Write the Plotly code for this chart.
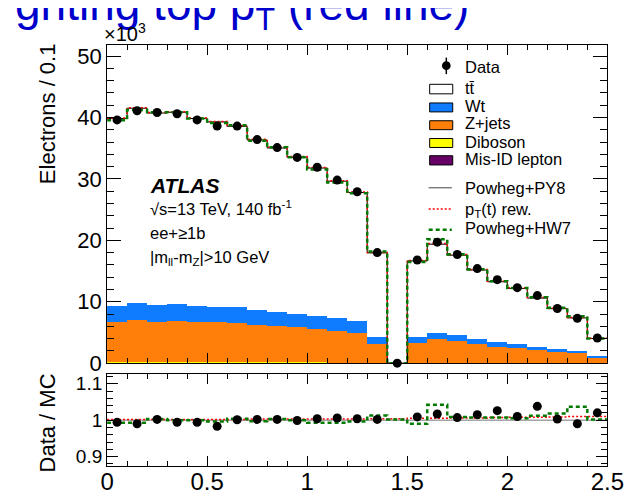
import plotly.graph_objects as go

# ---------------- data (values in units of 10^3 electrons / 0.1) ----------------
bin_lo = [0.0, 0.1, 0.2, 0.3, 0.4, 0.5, 0.6, 0.7, 0.8, 0.9, 1.0, 1.1, 1.2,
          1.3, 1.4, 1.5, 1.6, 1.7, 1.8, 1.9, 2.0, 2.1, 2.2, 2.3, 2.4]
bin_width = 0.1

data = [39.6, 41.1, 40.8, 40.6, 39.6, 38.6, 38.6, 36.4, 35.1, 33.5, 31.9, 29.8, 27.9,
        18.0, 0.0, 16.8, 19.7, 17.7, 15.4, 13.6, 12.3, 11.0, 8.9, 7.3, 4.1]

misid = [0.12, 0.12, 0.12, 0.12, 0.12, 0.12, 0.11, 0.11, 0.11, 0.10, 0.10, 0.10, 0.09,
         0.06, 0.0, 0.06, 0.07, 0.07, 0.06, 0.06, 0.05, 0.05, 0.04, 0.04, 0.03]
diboson = [0.08, 0.08, 0.08, 0.08, 0.08, 0.08, 0.08, 0.07, 0.07, 0.07, 0.07, 0.06, 0.06,
           0.04, 0.0, 0.04, 0.04, 0.04, 0.04, 0.03, 0.03, 0.03, 0.03, 0.02, 0.02]
zjets = [6.64, 6.86, 6.64, 6.70, 6.48, 6.48, 6.44, 6.08, 5.86, 5.71, 5.39, 5.19, 4.88,
         3.11, 0.0, 3.30, 3.83, 3.56, 3.09, 2.68, 2.52, 2.15, 1.84, 1.64, 0.95]
wt = [2.52, 2.78, 2.68, 2.73, 2.62, 2.57, 2.51, 2.40, 2.36, 2.25, 2.14, 2.03, 1.92,
      1.18, 0.0, 0.96, 1.11, 0.96, 0.75, 0.69, 0.59, 0.54, 0.48, 0.37, 0.28]
ttbar = [30.48, 31.66, 31.20, 31.22, 30.54, 30.02, 29.42, 27.67, 26.63, 25.40, 24.07, 22.24, 20.84,
         13.57, 0.0, 12.29, 14.32, 12.95, 11.23, 9.80, 8.99, 7.83, 6.48, 5.30, 2.74]

# ratio panel
ratio_data = [0.994, 0.990, 1.002, 0.994, 0.994, 0.983, 1.001, 1.002, 1.002, 0.999, 1.004, 1.006, 1.004,
              1.002, None, 1.009, 1.017, 1.007, 1.015, 1.026, 1.010, 1.038, 1.003, 0.990, 1.020]
ratio_ptrew = [1.002, 1.002, 1.002, 1.002, 1.002, 1.002, 1.002, 1.003, 1.003, 1.003, 1.003, 1.003, 1.003,
               1.004, 1.004, 1.005, 1.005, 1.006, 1.006, 1.007, 1.008, 1.008, 1.009, 1.010, 1.010]
ratio_hw7 = [0.993, 0.993, 1.003, 1.000, 1.000, 0.996, 1.004, 0.997, 1.003, 1.000, 0.993, 0.993, 0.996,
             1.013, 1.002, 0.990, 1.042, 1.009, 1.007, 1.007, 1.005, 1.012, 1.018, 1.037, 1.002]

x_ticks = [0, 0.5, 1, 1.5, 2, 2.5]
y_ticks_main = [0, 10, 20, 30, 40, 50]
y_ticks_ratio = [0.9, 1.0, 1.1]

# ---------------- styling ----------------
W, H = 633, 495
FONT = "Liberation Sans, Arial, Helvetica, sans-serif"
BLUE = "#0F7CFF"
ORANGE = "#FF7F0A"
YELLOW = "#FFFF00"
PURPLE = "#660066"
GREEN = "#007A00"
RED = "#FF0000"


def px(x):
    return x / W


def py(y):
    return 1 - y / H


XD = [px(95.7), px(615.7)]
YD_MAIN = [py(364.5), py(36.7)]
YD_RATIO = [py(470.0), py(375.5)]

centers = [lo + bin_width / 2 for lo in bin_lo]
edges = bin_lo + [bin_lo[-1] + bin_width]
mc_total = [a + b + c + d + e for a, b, c, d, e in zip(misid, diboson, zjets, wt, ttbar)]
mc_ptrew = [t * r for t, r in zip(mc_total, ratio_ptrew)]
mc_hw7 = [t * r for t, r in zip(mc_total, ratio_hw7)]


def step(vals):
    return edges, list(vals) + [vals[-1]]


fig = go.Figure()

# stacked backgrounds + signal
for vals, col in [(misid, PURPLE), (diboson, YELLOW), (zjets, ORANGE), (wt, BLUE), (ttbar, "white")]:
    fig.add_trace(go.Bar(x=centers, y=vals, width=bin_width,
                         marker=dict(color=col, line=dict(width=0)),
                         xaxis="x", yaxis="y", showlegend=False, hoverinfo="skip"))

# MC predictions as step lines
xs, ys = step(mc_total)
fig.add_trace(go.Scatter(x=xs, y=ys, mode="lines", line=dict(color="black", width=1, shape="hv"),
                         xaxis="x", yaxis="y", showlegend=False))
xs, ys = step(mc_ptrew)
fig.add_trace(go.Scatter(x=xs, y=ys, mode="lines",
                         line=dict(color=RED, width=1.5, shape="hv", dash="2px,2px"),
                         xaxis="x", yaxis="y", showlegend=False))
xs, ys = step(mc_hw7)
fig.add_trace(go.Scatter(x=xs, y=ys, mode="lines",
                         line=dict(color=GREEN, width=2.5, shape="hv", dash="4px,3px"),
                         xaxis="x", yaxis="y", showlegend=False))

# data
fig.add_trace(go.Scatter(x=centers, y=data, mode="markers",
                         marker=dict(color="black", size=9, symbol="circle"),
                         cliponaxis=False, xaxis="x", yaxis="y", showlegend=False))

# ratio panel
fig.add_trace(go.Scatter(x=[edges[0], edges[-1]], y=[1, 1], mode="lines",
                         line=dict(color="#777777", width=1),
                         xaxis="x2", yaxis="y2", showlegend=False))
xs, ys = step(ratio_ptrew)
fig.add_trace(go.Scatter(x=xs, y=ys, mode="lines",
                         line=dict(color=RED, width=1.5, shape="hv", dash="2px,2px"),
                         xaxis="x2", yaxis="y2", showlegend=False))
xs, ys = step(ratio_hw7)
fig.add_trace(go.Scatter(x=xs, y=ys, mode="lines",
                         line=dict(color=GREEN, width=2.5, shape="hv", dash="4px,3px"),
                         xaxis="x2", yaxis="y2", showlegend=False))
fig.add_trace(go.Scatter(x=centers, y=ratio_data, mode="markers",
                         marker=dict(color="black", size=9, symbol="circle"),
                         xaxis="x2", yaxis="y2", showlegend=False))

axis_common = dict(showline=True, linecolor="black", linewidth=1, mirror="ticks",
                   ticks="inside", tickcolor="black", tickwidth=1,
                   showgrid=False, zeroline=False)

fig.update_layout(
    width=W, height=H,
    margin=dict(l=0, r=0, t=0, b=0),
    paper_bgcolor="white", plot_bgcolor="white",
    barmode="stack", bargap=0,
    font=dict(family=FONT, color="black"),
    xaxis=dict(domain=XD, range=[0, 2.5], anchor="y", tickvals=x_ticks, ticklen=10,
               showticklabels=False,
               minor=dict(dtick=0.1, tick0=0, ticklen=5, ticks="inside", tickcolor="black"),
               **axis_common),
    yaxis=dict(domain=YD_MAIN, range=[0, 51.85], anchor="x", tickvals=y_ticks_main, ticklen=14,
               tickfont=dict(size=22, family=FONT),
               minor=dict(dtick=2, tick0=0, ticklen=7, ticks="inside", tickcolor="black"),
               **axis_common),
    xaxis2=dict(domain=XD, range=[0, 2.5], anchor="y2", tickvals=x_ticks, ticklen=10,
                tickfont=dict(size=24, family=FONT), ticklabelstandoff=-6,
                minor=dict(dtick=0.1, tick0=0, ticklen=5, ticks="inside", tickcolor="black"),
                **axis_common),
    yaxis2=dict(domain=YD_RATIO, range=[0.875, 1.127], anchor="x2", tickvals=y_ticks_ratio,
                ticktext=["0.9", "1", "1.1"], ticklen=11,
                tickfont=dict(size=19, family=FONT),
                minor=dict(dtick=0.02, tick0=0, ticklen=6, ticks="inside", tickcolor="black"),
                **axis_common),
)

ann = []


def text_bl(t, x, baseline, size, desc=0.212, color="black"):
    """place text so that its baseline sits at `baseline` px (from top) and it starts at x px"""
    bottom = baseline + desc * size + 2
    ann.append(dict(text=t, x=px(x - 2), y=py(bottom), xref="paper", yref="paper",
                    xanchor="left", yanchor="bottom", showarrow=False,
                    font=dict(size=size, color=color, family=FONT)))


def text_rot(t, xc, yc, size):
    ann.append(dict(text=t, x=px(xc), y=py(yc), xref="paper", yref="paper",
                    xanchor="center", yanchor="middle", showarrow=False, textangle=-90,
                    font=dict(size=size, color="black", family=FONT)))


SUB = 0.358

# cut-off slide title (baseline ~10 px from top)
TITLE_F = 46
ann.append(dict(text="ghting top p<sub>T</sub> (red line)", x=px(-2), y=py(10 - 0.905 * TITLE_F - 2),
                xref="paper", yref="paper", xanchor="left", yanchor="top", showarrow=False,
                font=dict(size=TITLE_F, color="#0000CC", family=FONT)))
# axis titles
text_rot("Electrons / 0.1", 34, 107.5, 22)
text_rot("Data / MC", 34, 425.8, 22)
text_bl("×10<sup>3</sup>", 92, 33.3, 20)
# ATLAS label
text_bl("<b><i>ATLAS</i></b>", 140, 189.5, 21)
text_bl("√s=13 TeV, 140 fb<sup>-1</sup>", 140, 211.7, 16.5)
text_bl("ee+≥1b", 140, 236.5, 16.5)
text_bl("|m<sub>ll</sub>-m<sub>Z</sub>|>10 GeV", 140, 260.7, 16.5, desc=SUB)

# legend
LX = 467.3
LF = 16.5
text_bl("Data", LX, 65, LF)
text_bl("tt̄", LX, 86.7, LF)
text_bl("Wt", LX, 105.7, LF)
text_bl("Z+jets", LX, 123.3, LF)
text_bl("Diboson", LX, 142.3, LF)
text_bl("Mis-ID lepton", LX, 160, LF)
text_bl("Powheg+PY8", LX, 190, LF)
text_bl("p<sub>T</sub>(t) rew.", LX, 211, LF, desc=SUB)
text_bl("Powheg+HW7", LX, 231.7, LF)

shapes = []
# data marker in legend
shapes.append(dict(type="line", xref="paper", yref="paper", x0=px(448.3), x1=px(448.3),
                   y0=py(50), y1=py(67), line=dict(color="black", width=1.5)))
shapes.append(dict(type="circle", xref="paper", yref="paper", x0=px(443.8), x1=px(452.8),
                   y0=py(62.8), y1=py(53.8), fillcolor="black", line=dict(color="black", width=0)))
for (y0, y1), col in [((77.5, 87.3), "white"), ((96.7, 105.9), BLUE), ((115, 124.2), ORANGE),
                      ((133.3, 142.5), YELLOW), ((151, 160.5), PURPLE)]:
    shapes.append(dict(type="rect", xref="paper", yref="paper", x0=px(431), x1=px(455),
                       y0=py(y1), y1=py(y0), fillcolor=col, line=dict(color="black", width=1)))
shapes.append(dict(type="line", xref="paper", yref="paper", x0=px(430), x1=px(454),
                   y0=py(184), y1=py(184), line=dict(color="#444444", width=1)))
shapes.append(dict(type="line", xref="paper", yref="paper", x0=px(430), x1=px(454),
                   y0=py(205.7), y1=py(205.7), line=dict(color=RED, width=1.5, dash="2px,2px")))
shapes.append(dict(type="line", xref="paper", yref="paper", x0=px(430), x1=px(454),
                   y0=py(227.3), y1=py(227.3), line=dict(color=GREEN, width=2.5, dash="4px,3px")))

fig.update_layout(annotations=ann, shapes=shapes)
fig.write_html("out.html")
